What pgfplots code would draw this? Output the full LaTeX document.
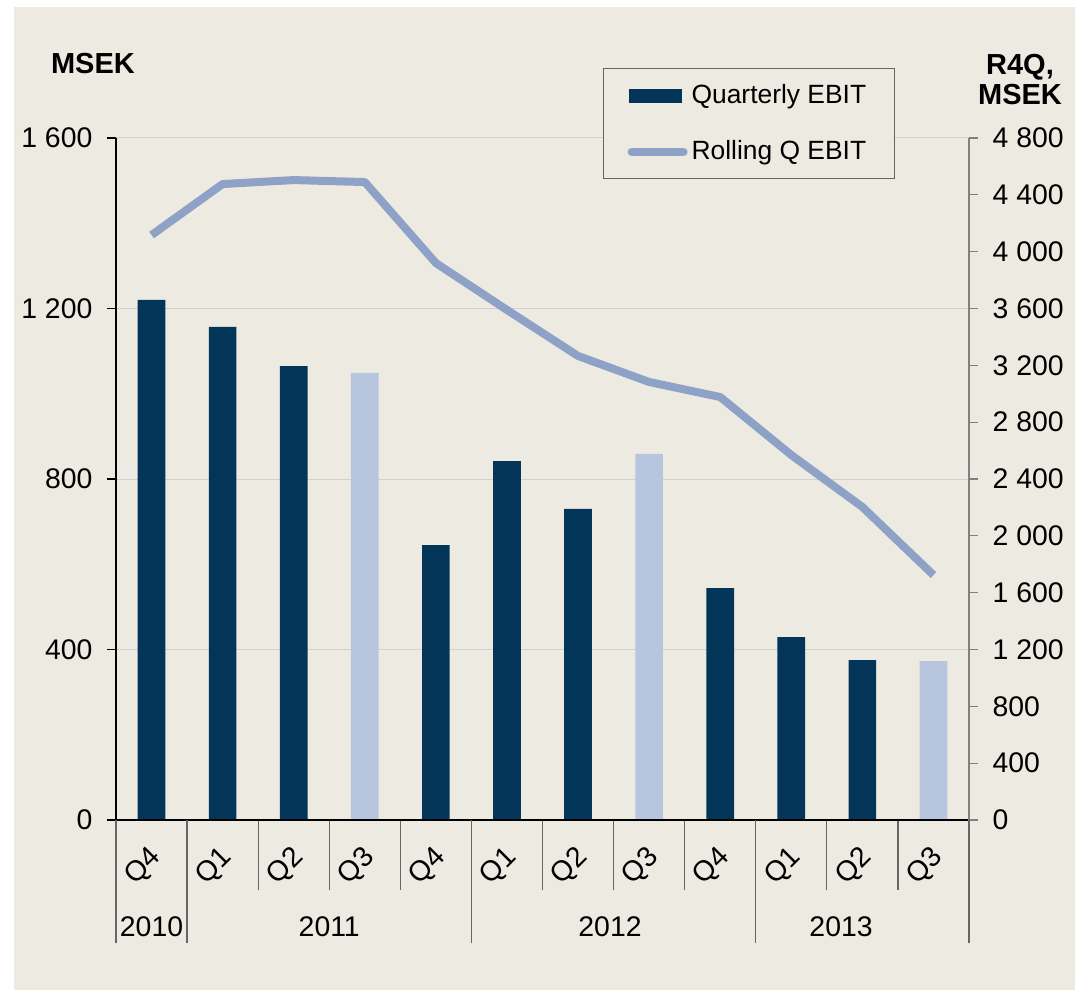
\documentclass[border=0pt]{standalone}
\usepackage{fontspec}
\setmainfont{Liberation Sans}
\usepackage{pgfplots}
\pgfplotsset{compat=1.18}

\definecolor{panel}{HTML}{EDEBE1}
\definecolor{bardark}{HTML}{023558}
\definecolor{barlight}{HTML}{B8C5DE}
\definecolor{rolling}{HTML}{8EA1C7}

\pgfplotsset{
  common/.style={
    scale only axis, width=426.5pt, height=341pt,
    xmin=-0.5, xmax=11.5, ymin=0,
    tick align=outside, clip=false,
    tick label style={font=\fontsize{14.2}{16}\selectfont},
  },
}

\begin{document}
\begin{tikzpicture}
\fill[white] (-58pt,-88.5pt) rectangle (486pt,410pt);
\fill[panel] (-51pt,-85pt) rectangle (479.5pt,406.5pt);

% quarterly bars, left axis
\begin{axis}[common,
  ymax=1600,
  axis x line*=bottom, axis y line*=left,
  axis line style={-, black, line width=0.6pt},
  ytick={0,400,...,1600}, yticklabels={0,400,800,1 200,1 600},
  ytick style={black, line width=0.6pt},
  yticklabel style={xshift=-4pt},
  ymajorgrids, grid style={black!18, line width=0.5pt},
  xtick={0,...,11}, xticklabels={Q4,Q1,Q2,Q3,Q4,Q1,Q2,Q3,Q4,Q1,Q2,Q3},
  xtick style={draw=none},
  xticklabel style={xshift=-4pt, yshift=-19pt, rotate=45, anchor=center},
  extra x ticks={1.5,2.5,3.5,5.5,6.5,7.5,9.5,10.5},
  extra x tick labels={},
  extra x tick style={major tick length=35pt, xtick style={draw=black!60, line width=0.6pt}},
]
\addplot[ybar, bar width=0.39, bar shift=0pt, fill=bardark, draw=none]
  coordinates {(0,1220)(1,1157)(2,1065)(4,645)(5,842)(6,730)(8,544)(9,429)(10,375)};
\addplot[ybar, bar width=0.39, bar shift=0pt, fill=barlight, draw=none]
  coordinates {(3,1049)(7,859)(11,373)};
\end{axis}

% rolling four quarters, right axis
\begin{axis}[common,
  ymax=4800,
  axis x line*=bottom, axis y line*=right,
  x axis line style={-, black, line width=0.6pt},
  y axis line style={-, black!50, line width=0.6pt},
  ytick={0,400,...,4800},
  yticklabels={0,400,800,1 200,1 600,2 000,2 400,2 800,3 200,3 600,4 000,4 400,4 800},
  ytick style={black!50, line width=0.6pt},
  yticklabel style={xshift=4pt},
  xtick=\empty,
  extra x ticks={-0.5,0.5,4.5,8.5,11.5},
  extra x tick labels={},
  extra x tick style={major tick length=61.5pt, xtick style={draw=black!60, line width=0.6pt}},
  legend style={at={(rel axis cs:0.5709,1.1026)}, anchor=north west,
    fill=panel, draw=black!60, line width=0.6pt,
    inner xsep=12pt, inner ysep=6pt, row sep=13pt,
    font=\fontsize{13.2}{15}\selectfont},
  legend cell align=left,
]
\addlegendimage{legend image code/.code={\fill[bardark] (0pt,-3.25pt) rectangle (26pt,3.25pt);}}
\addlegendentry{Quarterly EBIT}
\addplot[rolling, line width=4pt, line join=round,
  legend image code/.code={\draw[rolling, line width=4pt, line cap=round] (1pt,0pt) -- (27pt,0pt);}]
  coordinates {(0,4117)(1,4476)(2,4504)(3,4490)(4,3920)(5,3590)(6,3266)(7,3083)(8,2977)(9,2569)(10,2203)(11,1724)};
\addlegendentry{Rolling Q EBIT}

\node[font=\fontsize{14.2}{16}\selectfont] at (axis cs:0,0) [yshift=-53.5pt] {2010};
\node[font=\fontsize{14.2}{16}\selectfont] at (axis cs:2.5,0) [yshift=-53.5pt] {2011};
\node[font=\fontsize{14.2}{16}\selectfont] at (axis cs:6.45,0) [yshift=-53.5pt] {2012};
\node[font=\fontsize{14.2}{16}\selectfont] at (axis cs:9.7,0) [yshift=-53.5pt] {2013};
\end{axis}

\node[font=\bfseries\fontsize{14.5}{16}\selectfont, anchor=base west] at (-36pt,373pt) {MSEK};
\node[font=\bfseries\fontsize{14.5}{16}\selectfont, anchor=base] at (452pt,372.5pt) {R4Q,};
\node[font=\bfseries\fontsize{14.5}{16}\selectfont, anchor=base] at (452pt,357.5pt) {MSEK};
\end{tikzpicture}
\end{document}
